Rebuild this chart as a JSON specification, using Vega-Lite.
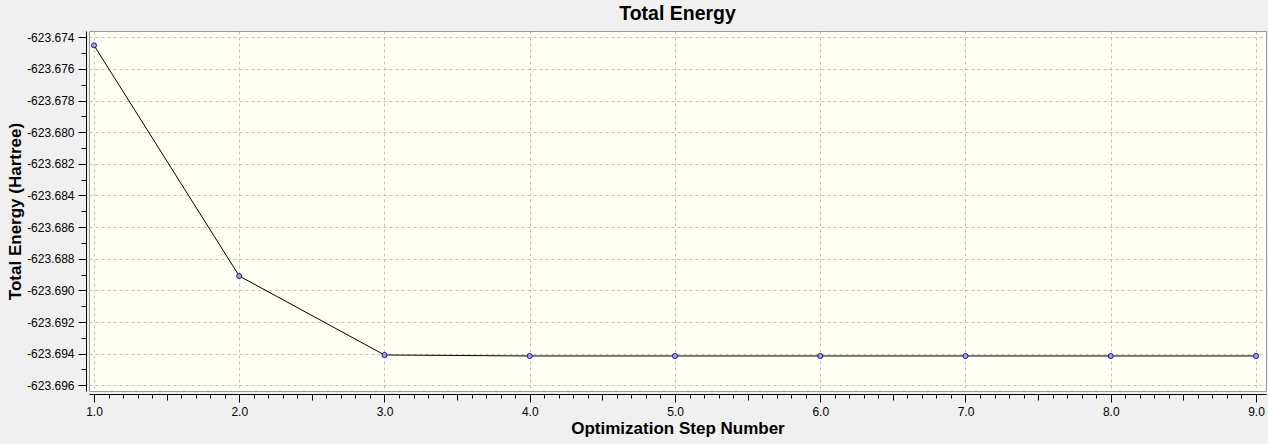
{
  "$schema": "https://vega.github.io/schema/vega-lite/v6.json",
  "autosize": {"type": "none"},
  "width": 1177,
  "height": 360,
  "padding": {"left": 89, "top": 31, "right": 2, "bottom": 53},
  "background": "#f0f0f0",
  "title": {
    "text": "Total Energy",
    "font": "Liberation Sans",
    "fontSize": 19.5,
    "fontWeight": "bold",
    "color": "#000000",
    "anchor": "middle",
    "frame": "group",
    "offset": 7
  },
  "config": {
    "view": {"fill": "#fffff4", "stroke": "#9a9a9a", "strokeWidth": 1},
    "axis": {
      "labelFont": "Liberation Sans",
      "labelFontSize": 12,
      "labelColor": "#000000",
      "titleFont": "Liberation Sans",
      "titleFontSize": 17,
      "titleFontWeight": "bold",
      "titleColor": "#000000",
      "domainColor": "#000000",
      "tickColor": "#000000",
      "gridColor": "#c0c0c0",
      "gridDash": [3, 3],
      "gridWidth": 1,
      "labelOverlap": false,
      "labelFlush": false,
      "labelBound": false
    }
  },
  "data": {
    "values": [
      {"step": 1, "energy": -623.674506},
      {"step": 2, "energy": -623.689089},
      {"step": 3, "energy": -623.694083},
      {"step": 4, "energy": -623.694146},
      {"step": 5, "energy": -623.694146},
      {"step": 6, "energy": -623.694146},
      {"step": 7, "energy": -623.694146},
      {"step": 8, "energy": -623.694146},
      {"step": 9, "energy": -623.694146}
    ]
  },
  "encoding": {
    "x": {
      "field": "step",
      "type": "quantitative",
      "scale": {"domain": [0.9656, 9.069], "nice": false, "zero": false},
      "axis": {
        "title": "Optimization Step Number",
        "offset": 3,
        "values": [1,1.1,1.2,1.3,1.4,1.5,1.6,1.7,1.8,1.9,2,2.1,2.2,2.3,2.4,2.5,2.6,2.7,2.8,2.9,3,3.1,3.2,3.3,3.4,3.5,3.6,3.7,3.8,3.9,4,4.1,4.2,4.3,4.4,4.5,4.6,4.7,4.8,4.9,5,5.1,5.2,5.3,5.4,5.5,5.6,5.7,5.8,5.9,6,6.1,6.2,6.3,6.4,6.5,6.6,6.7,6.8,6.9,7,7.1,7.2,7.3,7.4,7.5,7.6,7.7,7.8,7.9,8,8.1,8.2,8.3,8.4,8.5,8.6,8.7,8.8,8.9,9],
        "labelExpr": "abs(datum.value - round(datum.value)) < 1e-6 ? format(datum.value, '.1f') : ''",
        "tickSize": {
          "condition": [
            {"test": "abs(datum.value - round(datum.value)) < 1e-6", "value": 8},
            {"test": "abs(datum.value - floor(datum.value) - 0.5) < 1e-6", "value": 6}
          ],
          "value": 4
        },
        "gridOpacity": {"condition": {"test": "abs(datum.value - round(datum.value)) < 1e-6", "value": 1}, "value": 0},
        "labelPadding": 4,
        "titlePadding": 3,
        "encode": {"domain": {"update": {"x": {"signal": "scale('x', 1)"}, "x2": {"signal": "scale('x', 9)"}}}}
      }
    },
    "y": {
      "field": "energy",
      "type": "quantitative",
      "scale": {"domain": [-623.69636, -623.6736], "nice": false, "zero": false},
      "axis": {
        "title": "Total Energy (Hartree)",
        "offset": 3,
        "values": [-623.674,-623.675,-623.676,-623.677,-623.678,-623.679,-623.68,-623.681,-623.682,-623.683,-623.684,-623.685,-623.686,-623.687,-623.688,-623.689,-623.69,-623.691,-623.692,-623.693,-623.694,-623.695,-623.696],
        "labelExpr": "round((-623.674 - datum.value) * 1000) % 2 === 0 ? '-' + format(abs(datum.value), '.3f') : ''",
        "tickSize": {"condition": {"test": "round((-623.674 - datum.value) * 1000) % 2 === 0", "value": 8}, "value": 5},
        "gridOpacity": {"condition": {"test": "round((-623.674 - datum.value) * 1000) % 2 === 0", "value": 1}, "value": 0},
        "labelPadding": 4,
        "titlePadding": 2,
        "encode": {"domain": {"update": {"y": {"signal": "scale('y', -623.674)"}, "y2": {"signal": "scale('y', -623.696)"}}}}
      }
    }
  },
  "layer": [
    {"mark": {"type": "line", "color": "#000000", "strokeWidth": 1}},
    {"mark": {"type": "point", "filled": false, "shape": "circle", "size": 26, "fill": "#a0a0f0", "fillOpacity": 1, "stroke": "#1a1a8c", "strokeWidth": 1, "opacity": 1}}
  ]
}
